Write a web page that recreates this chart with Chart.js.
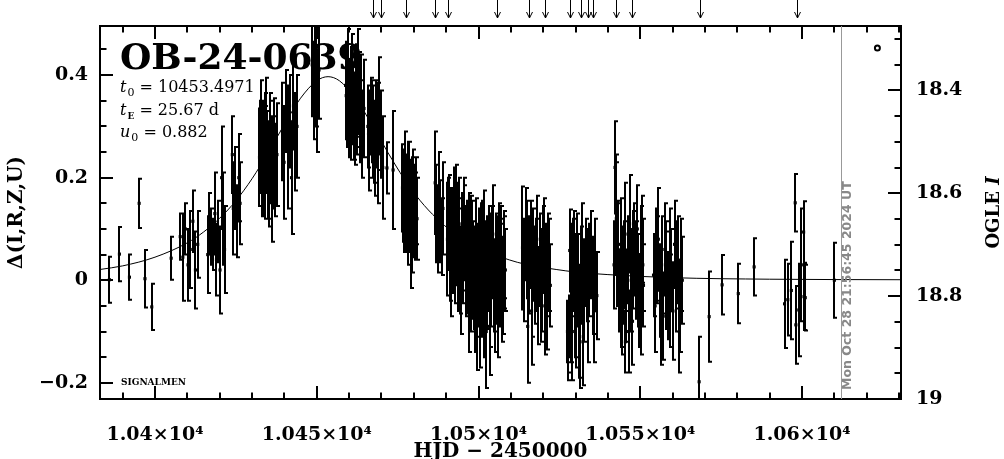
<!DOCTYPE html>
<html>
<head>
<meta charset="utf-8">
<script src="https://cdn.jsdelivr.net/npm/chart.js@4.4.0/dist/chart.umd.min.js"></script>
<style>
  html, body { margin: 0; padding: 0; background: #fff; }
  #wrap { width: 1004px; height: 459px; }
</style>
</head>
<body>
<div id="wrap"><canvas id="lc" width="1004" height="459"></canvas></div>
<script>
// --- dados (HJD - 2450000, delta mag, erro) ---
const hjd = [
  10385.9, 10389.0, 10392.1, 10395.1, 10396.9, 10399.0, 10405.0,
  10407.8, 10408.6, 10409.4, 10410.2, 10410.9, 10411.7, 10412.5, 10413.2,
  10416.3, 10416.8, 10417.4, 10418.0, 10418.5, 10419.0, 10419.6, 10420.1, 10420.6, 10421.1, 10421.5,
  10423.9, 10424.2, 10424.8, 10425.3, 10425.9, 10426.3,
  10432.3, 10432.7, 10433.1, 10433.5, 10433.9, 10434.3, 10434.7, 10435.1, 10435.5, 10435.9, 10436.3, 10436.7, 10437.2, 10437.7,
  10439.4, 10439.9, 10440.5, 10441.0, 10441.6, 10442.2, 10442.8, 10443.4, 10443.9,
  10448.6, 10449.0, 10449.4, 10449.8, 10450.2, 10450.7,
  10458.9, 10459.3, 10459.7, 10460.1, 10460.5, 10460.9, 10461.3, 10461.7, 10462.1, 10462.5, 10462.9, 10463.3, 10463.7, 10464.1, 10464.6,
  10465.8, 10466.3, 10466.8, 10467.3, 10467.8, 10468.3, 10468.8, 10469.3, 10469.8, 10470.4, 10471.7, 10473.6,
  10476.5, 10476.9, 10477.3, 10477.7, 10478.1, 10478.5, 10478.9, 10479.0, 10479.3, 10479.7, 10480.1, 10480.6, 10481.0,
  10486.6, 10487.0, 10487.4, 10487.8, 10488.2, 10488.6, 10489.0,
  10490.4, 10490.8, 10491.2, 10491.6, 10492.0, 10492.4, 10492.8, 10493.2, 10493.6, 10494.0, 10494.4,
  10494.8, 10495.2, 10495.6, 10496.0, 10496.4, 10496.8, 10497.2, 10497.6, 10498.0, 10498.4, 10498.8,
  10499.2, 10499.6, 10500.0, 10500.4, 10500.8, 10501.2, 10501.6, 10502.0, 10502.4, 10502.8, 10503.2,
  10503.6, 10504.0, 10504.4, 10504.8, 10505.3, 10505.8, 10506.3, 10506.8, 10507.3, 10507.8, 10508.3,
  10513.6, 10514.8, 10515.2, 10515.7, 10516.1, 10516.6, 10517.0, 10517.5, 10518.0, 10518.5, 10519.0, 10519.5, 10520.0, 10520.5, 10521.0, 10521.6, 10522.2,
  10527.5, 10527.8, 10528.2, 10528.7, 10529.3, 10529.9, 10530.5, 10531.0, 10531.4, 10531.6, 10532.1, 10532.7, 10533.2, 10533.8, 10534.3, 10534.9, 10535.4, 10536.0, 10536.6,
  10541.9, 10542.2, 10542.4, 10542.6, 10542.9, 10543.4, 10543.9, 10544.3, 10544.8, 10545.3, 10545.4, 10545.7, 10546.2, 10546.7, 10547.2, 10547.6, 10548.1, 10548.6, 10549.1, 10549.6, 10550.1, 10550.6, 10551.0,
  10554.1, 10554.6, 10555.1, 10555.6, 10556.1, 10556.6, 10557.1, 10557.6, 10558.1, 10558.6, 10559.1, 10559.6, 10560.1, 10560.6, 10561.1, 10561.6, 10562.1, 10562.6, 10563.0,
  10568.2, 10571.3, 10575.3, 10580.3, 10585.2,
  10594.6, 10595.6, 10596.7, 10597.9, 10598.1, 10599.0, 10599.8, 10600.5, 10600.6, 10601.0, 10610.0,
  10490.6, 10491.4, 10492.2, 10493.0, 10493.8, 10494.6, 10495.4, 10496.2, 10497.0, 10497.8, 10498.6, 10499.4, 10500.2,
  10501.0, 10501.8, 10502.6, 10503.4, 10504.2, 10505.0, 10505.6, 10506.1, 10506.6, 10507.1, 10507.6, 10508.0,
  10527.6, 10528.0, 10528.5, 10529.0, 10529.6, 10530.2, 10530.8, 10532.4, 10533.5, 10535.7,
  10514.2, 10515.0, 10516.4, 10517.8, 10519.2, 10520.3, 10521.3, 10521.9,
  10543.1, 10544.0, 10545.0, 10546.4, 10547.9, 10549.3, 10550.3, 10550.8,
  10554.8, 10556.3, 10557.9, 10559.3, 10560.9, 10562.3,
  10432.5, 10433.3, 10434.1, 10434.9, 10435.7, 10436.5,
  10459.1, 10459.9, 10460.7, 10461.5, 10462.3, 10463.1,
  10466.0, 10467.0, 10468.0, 10469.0,
  10476.7, 10477.5, 10478.3, 10479.5, 10480.4
];
const dmag = [
  0.001, 0.051, 0.006, 0.150, 0.003, -0.052, 0.043,
  0.085, 0.045, 0.100, 0.030, 0.060, 0.115, 0.020, 0.070,
  0.050, 0.110, 0.085, 0.070, 0.130, 0.040, 0.095, 0.020, 0.200, 0.120, 0.060,
  0.245, 0.140, 0.180, 0.115, 0.200, 0.150,
  0.240, 0.290, 0.215, 0.265, 0.230, 0.300, 0.250, 0.205, 0.275, 0.235, 0.180, 0.260, 0.215, 0.245,
  0.290, 0.230, 0.330, 0.260, 0.310, 0.200, 0.340, 0.270, 0.300,
  0.420, 0.370, 0.440, 0.390, 0.350, 0.410,
  0.380, 0.340, 0.400, 0.355, 0.320, 0.385, 0.345, 0.300, 0.370, 0.330, 0.390, 0.310, 0.350, 0.285, 0.335,
  0.300, 0.260, 0.320, 0.290, 0.270, 0.305, 0.240, 0.340, 0.285, 0.220, 0.219, 0.215,
  0.180, 0.150, 0.200, 0.165, 0.130, 0.185, 0.145, 0.060, 0.110, 0.170, 0.135, 0.155, 0.120,
  0.190, 0.130, 0.100, 0.160, 0.115, 0.085, 0.140,
  0.080, 0.120, 0.050, 0.100, 0.070, 0.130, 0.040, 0.090, 0.060, 0.110, 0.020,
  0.075, 0.045, 0.100, 0.010, 0.065, 0.030, 0.085, -0.010, 0.055, 0.020, -0.040,
  0.070, 0.000, 0.040, -0.060, 0.050, -0.020, 0.080, 0.010, -0.100, 0.030, 0.060,
  -0.030, 0.020, 0.090, -0.010, 0.045, 0.010, 0.070, 0.030, -0.020, 0.050, 0.020,
  0.063, 0.090, -0.090, 0.030, 0.070, -0.010, 0.050, 0.010, 0.080, -0.030, 0.040, 0.000, 0.060, -0.050, 0.020, 0.045, -0.010,
  -0.100, -0.130, 0.058, -0.060, 0.030, -0.030, 0.045, -0.080, -0.120, 0.010, 0.060, -0.020, 0.035, -0.050, 0.020, 0.050, -0.010, 0.030, -0.030,
  0.030, 0.220, 0.150, 0.120, 0.050, -0.020, 0.070, -0.060, 0.010, 0.090, -0.120, -0.030, 0.040, 0.110, 0.000, -0.080, 0.060, 0.020, 0.100, -0.040, 0.050, 0.080, -0.010,
  0.010, -0.050, 0.040, 0.080, -0.020, 0.030, -0.070, 0.060, 0.000, -0.030, 0.050, 0.020, -0.060, 0.070, -0.010, 0.040, -0.100, 0.030, 0.000,
  -0.198, -0.071, -0.009, -0.026, 0.026,
  -0.046, -0.038, -0.020, 0.151, -0.087, -0.058, 0.030, 0.094, -0.032, -0.034, 0.000,
  0.110, 0.030, 0.085, 0.140, 0.050, -0.005, 0.095, 0.040, -0.030, 0.070, 0.005, -0.070, 0.025,
  0.065, -0.050, 0.015, -0.090, 0.055, -0.040, 0.030, -0.060, 0.010, 0.060, -0.010, 0.035,
  -0.140, -0.090, 0.020, -0.100, 0.050, -0.070, 0.000, -0.110, 0.010, -0.060,
  0.020, 0.060, -0.060, 0.030, -0.020, 0.075, -0.040, 0.030,
  0.060, -0.040, 0.030, -0.100, 0.040, 0.000, -0.060, 0.030,
  0.050, -0.080, 0.020, -0.040, 0.030, -0.050,
  0.260, 0.225, 0.280, 0.215, 0.250, 0.230,
  0.360, 0.330, 0.375, 0.320, 0.350, 0.365,
  0.285, 0.310, 0.255, 0.300,
  0.165, 0.140, 0.175, 0.150, 0.125
];
const err = [
  0.045, 0.053, 0.044, 0.048, 0.056, 0.045, 0.042,
  0.045, 0.085, 0.050, 0.070, 0.075, 0.060, 0.075, 0.065,
  0.075, 0.060, 0.055, 0.050, 0.080, 0.070, 0.060, 0.085, 0.100, 0.090, 0.085,
  0.075, 0.090, 0.080, 0.070, 0.085, 0.080,
  0.095, 0.100, 0.090, 0.085, 0.110, 0.095, 0.080, 0.100, 0.090, 0.085, 0.105, 0.095, 0.090, 0.100,
  0.095, 0.110, 0.080, 0.120, 0.090, 0.110, 0.085, 0.095, 0.100,
  0.100, 0.095, 0.110, 0.090, 0.100, 0.095,
  0.085, 0.080, 0.090, 0.075, 0.085, 0.095, 0.080, 0.075, 0.090, 0.085, 0.100, 0.080, 0.090, 0.085, 0.095,
  0.080, 0.085, 0.075, 0.090, 0.080, 0.085, 0.090, 0.095, 0.085, 0.100, 0.050, 0.115,
  0.085, 0.095, 0.090, 0.080, 0.100, 0.085, 0.090, 0.075, 0.095, 0.085, 0.090, 0.085, 0.080,
  0.100, 0.095, 0.085, 0.090, 0.080, 0.075, 0.090,
  0.110, 0.085, 0.090, 0.080, 0.095, 0.090, 0.085, 0.100, 0.080, 0.090, 0.085,
  0.095, 0.090, 0.100, 0.080, 0.090, 0.095, 0.085, 0.090, 0.100, 0.095, 0.100,
  0.090, 0.110, 0.095, 0.110, 0.100, 0.090, 0.095, 0.105, 0.110, 0.090, 0.085,
  0.100, 0.110, 0.095, 0.090, 0.085, 0.095, 0.080, 0.090, 0.100, 0.085, 0.080,
  0.120, 0.090, 0.110, 0.095, 0.085, 0.100, 0.090, 0.095, 0.085, 0.095, 0.090, 0.100, 0.085, 0.095, 0.090, 0.085, 0.080,
  0.060, 0.050, 0.080, 0.100, 0.090, 0.120, 0.085, 0.110, 0.090, 0.095, 0.090, 0.100, 0.085, 0.110, 0.090, 0.085, 0.095, 0.090, 0.085,
  0.085, 0.090, 0.095, 0.110, 0.100, 0.080, 0.090, 0.085, 0.095, 0.100, 0.060, 0.090, 0.085, 0.095, 0.100, 0.085, 0.090, 0.095, 0.085, 0.090, 0.095, 0.085, 0.080,
  0.080, 0.090, 0.085, 0.100, 0.090, 0.095, 0.085, 0.090, 0.095, 0.085, 0.090, 0.080, 0.095, 0.085, 0.090, 0.085, 0.080, 0.090, 0.085,
  0.088, 0.088, 0.058, 0.058, 0.056,
  0.086, 0.070, 0.095, 0.056, 0.076, 0.090, 0.110, 0.060, 0.065, 0.064, 0.073,
  0.090, 0.100, 0.095, 0.085, 0.110, 0.100, 0.090, 0.105, 0.110, 0.095, 0.100, 0.105, 0.115,
  0.090, 0.100, 0.110, 0.095, 0.090, 0.100, 0.095, 0.090, 0.100, 0.085, 0.095, 0.090,
  0.055, 0.060, 0.090, 0.095, 0.085, 0.100, 0.090, 0.095, 0.090, 0.100,
  0.100, 0.095, 0.105, 0.090, 0.100, 0.085, 0.095, 0.090,
  0.095, 0.090, 0.085, 0.080, 0.095, 0.090, 0.085, 0.090,
  0.090, 0.085, 0.095, 0.090, 0.085, 0.090,
  0.090, 0.100, 0.085, 0.095, 0.100, 0.090,
  0.085, 0.090, 0.080, 0.085, 0.090, 0.080,
  0.085, 0.080, 0.090, 0.085,
  0.090, 0.085, 0.095, 0.090, 0.085
];

// curva do modelo
const modelHjd = [10383, 10390, 10400, 10410, 10415, 10420, 10425, 10430, 10435, 10440, 10445, 10450, 10453.5,
  10457, 10462, 10467, 10472, 10477, 10482, 10487, 10492, 10497, 10502, 10507, 10512, 10517, 10524, 10530,
  10540, 10560, 10590, 10631];
const modelDmag = [0.021, 0.028, 0.045, 0.073, 0.094, 0.121, 0.155, 0.198, 0.249, 0.304, 0.355, 0.389, 0.397,
  0.389, 0.355, 0.304, 0.249, 0.198, 0.155, 0.121, 0.094, 0.073, 0.057, 0.045, 0.035, 0.028, 0.021, 0.016,
  0.011, 0.005, 0.002, 0.001];

// setas no topo e marcações
const arrowHjd = [10467.5, 10469.9, 10477.6, 10486.7, 10490.7, 10505.7, 10515.6, 10520.7, 10528.4,
  10531.7, 10533.8, 10535.4, 10542.4, 10547.5, 10568.4, 10598.3];
const nowHjd = 10612.2;
const nowLabel = 'Mon Oct 28 21:56:45 2024 UT';
const symbolHjd = [10623.3];
const symbolDmag = [0.453];

// eixos
const xRange = [10383.0, 10630.6];
const yRange = [-0.2316, 0.4958];
const magRange = [18.2746, 19.0];
const xMajor = [10400, 10450, 10500, 10550, 10600];
const xTickLabels = ['1.04×10⁴', '1.045×10⁴', '1.05×10⁴', '1.055×10⁴', '1.06×10⁴'];
const yMajor = [-0.2, 0, 0.2, 0.4];
const yTickLabels = ['−0.2', '0', '0.2', '0.4'];
const magMajor = [18.4, 18.6, 18.8, 19];
const magTickLabels = ['18.4', '18.6', '18.8', '19'];

const eventName = 'OB-24-0639';
const params = [['t', '0', ' = 10453.4971'], ['t', 'E', ' = 25.67 d'], ['u', '0', ' = 0.882']];

const SERIF = '"DejaVu Serif", serif';

function isMajor(v, step) {
    return Math.abs(v / step - Math.round(v / step)) < 1e-6;
}

// Barras de erro (abaixo dos pontos)
const errorBars = {
    id: 'errorBars',
    beforeDatasetsDraw(chart) {
        const { ctx, chartArea: a, scales } = chart;
        ctx.save();

        // Título e parâmetros por baixo dos dados
        ctx.fillStyle = '#000';
        ctx.textBaseline = 'alphabetic';
        ctx.textAlign = 'left';
        ctx.font = 'bold 36px ' + SERIF;
        ctx.fillText(eventName, a.left + 20, a.top + 43);
        params.forEach((p, i) => {
            const x = a.left + 20;
            const y = a.top + 66 + i * 22.5;
            ctx.font = 'italic 16px ' + SERIF;
            ctx.fillText(p[0], x, y);
            let w = ctx.measureText(p[0]).width + 1;
            ctx.font = (p[1] === 'E' ? 'bold 9px ' : '11px ') + SERIF;
            ctx.fillText(p[1], x + w, y + 4);
            w += ctx.measureText(p[1]).width;
            ctx.font = '16px ' + SERIF;
            ctx.fillText(p[2], x + w, y);
        });
        ctx.font = 'bold 9px ' + SERIF;
        ctx.fillText('SIGNALMEN', a.left + 21, a.bottom - 14);

        ctx.beginPath();
        ctx.rect(a.left, a.top, a.right - a.left, a.bottom - a.top);
        ctx.clip();
        ctx.strokeStyle = '#000';
        ctx.lineWidth = 2;
        ctx.beginPath();
        hjd.forEach((t, i) => {
            const px = Math.round(scales.x.getPixelForValue(t));
            const y1 = scales.y.getPixelForValue(dmag[i] + err[i]);
            const y2 = scales.y.getPixelForValue(dmag[i] - err[i]);
            ctx.moveTo(px, y1);
            ctx.lineTo(px, y2);
            ctx.moveTo(px - 1, y1);
            ctx.lineTo(px + 3, y1);
            ctx.moveTo(px - 1, y2);
            ctx.lineTo(px + 3, y2);
        });
        ctx.stroke();
        ctx.restore();
    }
};

// Moldura, marcas dos eixos, setas e anotações
const frameDecor = {
    id: 'frameDecor',
    afterDraw(chart) {
        const { ctx, chartArea: a, scales } = chart;
        ctx.save();
        ctx.strokeStyle = '#000';
        ctx.lineWidth = 2;
        ctx.beginPath();
        for (let v = 10390; v <= 10630; v += 10) {
            const px = Math.round(scales.x.getPixelForValue(v));
            const len = isMajor(v, 50) ? 13 : 6.5;
            ctx.moveTo(px, a.bottom);
            ctx.lineTo(px, a.bottom - len);
            ctx.moveTo(px, a.top);
            ctx.lineTo(px, a.top + len);
        }
        for (let k = -4; k <= 9; k++) {
            const v = k * 0.05;
            const py = Math.round(scales.y.getPixelForValue(v));
            const len = isMajor(v, 0.2) ? 13 : 6.5;
            ctx.moveTo(a.left, py);
            ctx.lineTo(a.left + len, py);
        }
        for (let k = 366; k <= 380; k++) {
            const v = k * 0.05;
            const py = Math.round(scales.y2.getPixelForValue(v));
            const len = isMajor(v, 0.2) ? 13 : 6.5;
            ctx.moveTo(a.right, py);
            ctx.lineTo(a.right - len, py);
        }
        ctx.stroke();
        ctx.strokeRect(a.left, a.top, a.right - a.left, a.bottom - a.top);

        // setas
        ctx.lineWidth = 1;
        ctx.beginPath();
        arrowHjd.forEach(t => {
            const px = Math.round(scales.x.getPixelForValue(t)) + 0.5;
            ctx.moveTo(px, 0);
            ctx.lineTo(px, a.top - 8);
            ctx.moveTo(px - 3, a.top - 14);
            ctx.lineTo(px, a.top - 8);
            ctx.lineTo(px + 3, a.top - 14);
        });
        ctx.stroke();

        // linha da data atual
        const nx = Math.round(scales.x.getPixelForValue(nowHjd)) + 0.5;
        ctx.strokeStyle = '#999';
        ctx.beginPath();
        ctx.moveTo(nx, a.top);
        ctx.lineTo(nx, a.bottom);
        ctx.stroke();
        ctx.save();
        ctx.translate(nx + 6, a.bottom - 9);
        ctx.rotate(-Math.PI / 2);
        ctx.fillStyle = '#888';
        ctx.font = 'bold 12.5px "DejaVu Sans", sans-serif';
        ctx.textAlign = 'left';
        ctx.textBaseline = 'middle';
        ctx.fillText(nowLabel, 0, 0);
        ctx.restore();

        // título do eixo direito
        ctx.save();
        ctx.fillStyle = '#000';
        ctx.textBaseline = 'middle';
        ctx.textAlign = 'left';
        ctx.translate(994, (a.top + a.bottom) / 2);
        ctx.rotate(-Math.PI / 2);
        ctx.font = 'bold 18px ' + SERIF;
        const w1 = ctx.measureText('OGLE ').width;
        ctx.font = 'italic bold 18px ' + SERIF;
        const w2 = ctx.measureText('I').width;
        const x0 = -(w1 + w2) / 2;
        ctx.font = 'bold 18px ' + SERIF;
        ctx.fillText('OGLE ', x0, 0);
        ctx.font = 'italic bold 18px ' + SERIF;
        ctx.fillText('I', x0 + w1, 0);
        ctx.restore();
        ctx.restore();
    }
};

const tickFont = { family: SERIF, size: 19, weight: 'bold' };
const titleFont = { family: SERIF, size: 20, weight: 'bold', lineHeight: 0.75 };

new Chart(document.getElementById('lc'), {
    type: 'scatter',
    data: {
        datasets: [
            {
                label: 'dados',
                data: hjd.map((t, i) => ({ x: t, y: dmag[i] })),
                pointStyle: 'rect',
                pointRadius: 2.2,
                borderWidth: 0,
                backgroundColor: '#000'
            },
            {
                label: 'modelo',
                type: 'line',
                data: modelHjd.map((t, i) => ({ x: t, y: modelDmag[i] })),
                borderColor: '#000',
                borderWidth: 1,
                pointRadius: 0,
                cubicInterpolationMode: 'monotone',
                fill: false
            },
            {
                label: 'simbolo',
                data: symbolHjd.map((t, i) => ({ x: t, y: symbolDmag[i] })),
                pointStyle: 'circle',
                pointRadius: 2.5,
                borderWidth: 2,
                borderColor: '#000',
                backgroundColor: '#fff'
            }
        ]
    },
    options: {
        responsive: false,
        animation: false,
        devicePixelRatio: 1,
        layout: { padding: { top: 26, left: 0, right: 0, bottom: 0 } },
        plugins: {
            legend: { display: false },
            tooltip: { enabled: false }
        },
        scales: {
            x: {
                type: 'linear',
                position: 'bottom',
                min: xRange[0],
                max: xRange[1],
                grid: { display: false },
                border: { display: false },
                afterBuildTicks: s => { s.ticks = xMajor.map(v => ({ value: v })); },
                afterFit: s => { s.height = 60; },
                ticks: {
                    color: '#000',
                    font: tickFont,
                    padding: 17,
                    maxRotation: 0,
                    autoSkip: false,
                    callback: (v, i) => xTickLabels[i]
                },
                title: {
                    display: true,
                    text: 'HJD − 2450000',
                    color: '#000',
                    font: titleFont,
                    padding: { top: 0, bottom: 0 }
                }
            },
            y: {
                type: 'linear',
                position: 'left',
                min: yRange[0],
                max: yRange[1],
                grid: { display: false },
                border: { display: false },
                afterBuildTicks: s => { s.ticks = yMajor.map(v => ({ value: v })); },
                afterFit: s => { s.width = 100; },
                ticks: {
                    color: '#000',
                    font: tickFont,
                    padding: 4,
                    autoSkip: false,
                    callback: (v, i) => yTickLabels[i]
                },
                title: {
                    display: true,
                    text: 'Δ(I,R,Z,U)',
                    color: '#000',
                    font: { family: SERIF, size: 20, weight: 'bold', lineHeight: 1 },
                    padding: { top: 7, bottom: 0 }
                }
            },
            y2: {
                type: 'linear',
                position: 'right',
                reverse: true,
                min: magRange[0],
                max: magRange[1],
                grid: { display: false },
                border: { display: false },
                afterBuildTicks: s => { s.ticks = magMajor.map(v => ({ value: v })); },
                afterFit: s => { s.width = 103; },
                ticks: {
                    color: '#000',
                    font: tickFont,
                    padding: 7,
                    autoSkip: false,
                    callback: (v, i) => magTickLabels[i]
                }
            }
        }
    },
    plugins: [errorBars, frameDecor]
});
</script>
</body>
</html>
